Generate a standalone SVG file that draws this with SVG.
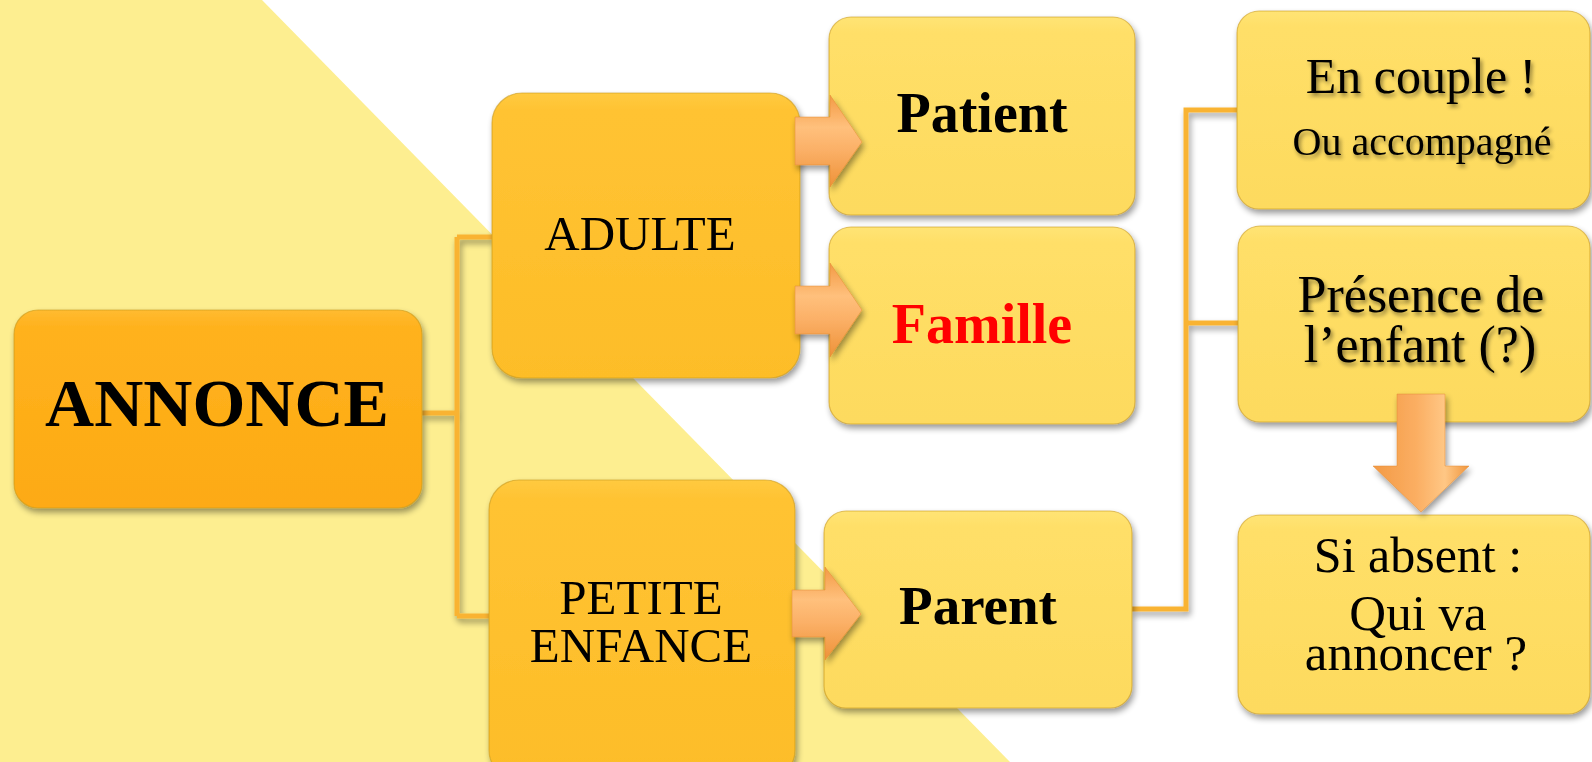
<svg xmlns="http://www.w3.org/2000/svg" width="1592" height="762" viewBox="0 0 1592 762">
<defs>
  <linearGradient id="gMain" x1="0" y1="0" x2="0" y2="1">
    <stop offset="0" stop-color="#FFBB30"/><stop offset="0.08" stop-color="#FFB21F"/><stop offset="1" stop-color="#FDAA12"/>
  </linearGradient>
  <linearGradient id="gMid" x1="0" y1="0" x2="0" y2="1">
    <stop offset="0" stop-color="#FFCA40"/><stop offset="0.06" stop-color="#FFC333"/><stop offset="1" stop-color="#FDBD28"/>
  </linearGradient>
  <linearGradient id="gLight" x1="0" y1="0" x2="0" y2="1">
    <stop offset="0" stop-color="#FFE475"/><stop offset="0.08" stop-color="#FFDF68"/><stop offset="1" stop-color="#FDDA5E"/>
  </linearGradient>
  <linearGradient id="gArrowR" x1="0" y1="0" x2="0" y2="1">
    <stop offset="0" stop-color="#F39A45"/><stop offset="0.35" stop-color="#FFC07C"/><stop offset="0.6" stop-color="#FBB067"/><stop offset="1" stop-color="#EE9238"/>
  </linearGradient>
  <linearGradient id="gArrowD" x1="0" y1="0" x2="1" y2="0">
    <stop offset="0" stop-color="#F39A45"/><stop offset="0.45" stop-color="#FBAE62"/><stop offset="0.75" stop-color="#FFC785"/><stop offset="1" stop-color="#F0963E"/>
  </linearGradient>
  <filter id="shadow" x="-10%" y="-10%" width="125%" height="125%">
    <feGaussianBlur in="SourceAlpha" stdDeviation="3"/>
    <feOffset dx="2" dy="4" result="o"/>
    <feComponentTransfer><feFuncA type="linear" slope="0.4"/></feComponentTransfer>
    <feMerge><feMergeNode/><feMergeNode in="SourceGraphic"/></feMerge>
  </filter>
  <filter id="tshadow" x="-10%" y="-20%" width="125%" height="150%">
    <feGaussianBlur in="SourceAlpha" stdDeviation="2"/>
    <feOffset dx="2" dy="3"/>
    <feComponentTransfer><feFuncA type="linear" slope="0.45"/></feComponentTransfer>
    <feMerge><feMergeNode/><feMergeNode in="SourceGraphic"/></feMerge>
  </filter>
  <style>
    .box { stroke: #C99A1C; stroke-width: 1.2; stroke-opacity: 0.6; filter: url(#shadow); }
    .main { fill: url(#gMain); }
    .mid { fill: url(#gMid); }
    .light { fill: url(#gLight); }
    .conn { fill: none; stroke: #F9B331; stroke-width: 5; filter: url(#shadow); }
    .arr { stroke: #E08A30; stroke-width: 0.8; stroke-opacity: 0.6; filter: url(#shadow); }
    text { font-family: "Liberation Serif", "Times New Roman", serif; text-anchor: middle; fill: #000; }
    .b { font-weight: bold; }
    .ts { filter: url(#tshadow); }
  </style>
</defs>

<rect x="0" y="0" width="1592" height="762" fill="#FFFFFF"/>
<polygon points="0,0 262,0 1010,762 0,762" fill="#FDEE90"/>

<g id="connectors">
  <path class="conn" d="M422,413 H457 M457,237 V616 M457,237 H492 M457,616 H489"/>
  <path class="conn" d="M1132,609 H1186 V110 H1237 M1186,323 H1238"/>
</g>

<g id="annonce">
  <rect class="box main" x="14" y="310" width="408" height="198" rx="24"/>
  <text class="b" x="217" y="426" font-size="68">ANNONCE</text>
</g>

<g id="adulte">
  <rect class="box mid" x="492" y="93" width="308" height="285" rx="30"/>
  <text x="640" y="250" font-size="49">ADULTE</text>
</g>

<g id="petite-enfance">
  <rect class="box mid" x="489" y="480" width="306" height="300" rx="30"/>
  <text x="641" y="614" font-size="49">PETITE</text>
  <text x="641" y="662" font-size="49">ENFANCE</text>
</g>

<g id="patient">
  <rect class="box light" x="829" y="17" width="306" height="198" rx="22"/>
  <text class="b" x="982" y="132" font-size="56">Patient</text>
</g>

<g id="famille">
  <rect class="box light" x="829" y="227" width="306" height="197" rx="22"/>
  <text class="b" x="982" y="343" font-size="56" fill="#FF0000" style="fill:#FF0000">Famille</text>
</g>

<g id="parent">
  <rect class="box light" x="824" y="511" width="308" height="197" rx="22"/>
  <text class="b" x="978" y="624" font-size="55">Parent</text>
</g>

<g id="en-couple">
  <rect class="box light" x="1237" y="11" width="353" height="198" rx="22"/>
  <text class="ts" x="1421" y="93" font-size="50">En couple !</text>
  <text class="ts" x="1422" y="155" font-size="40">Ou accompagné</text>
</g>

<g id="presence">
  <rect class="box light" x="1238" y="226" width="352" height="196" rx="22"/>
  <text class="ts" x="1421" y="312" font-size="52">Présence de</text>
  <text class="ts" x="1420" y="362" font-size="52">l’enfant (?)</text>
</g>

<g id="si-absent">
  <rect class="box light" x="1238" y="515" width="352" height="199" rx="22"/>
  <text x="1418" y="572" font-size="50">Si absent :</text>
  <text x="1418" y="630" font-size="51">Qui va</text>
  <text x="1416" y="670" font-size="51">annoncer ?</text>
</g>

<g id="arrows">
  <path class="arr" fill="url(#gArrowR)" d="M795,117 H830 V95 L862,142 L830,187 V165 H795 Z"/>
  <path class="arr" fill="url(#gArrowR)" d="M795,286 H830 V263 L862,310 L830,357 V334 H795 Z"/>
  <path class="arr" fill="url(#gArrowR)" d="M792,590 H825 V567 L861,614 L825,660 V637 H792 Z"/>
  <path class="arr" fill="url(#gArrowD)" d="M1397,394 H1445 V466 H1469 L1421,512 L1373,466 H1397 Z"/>
</g>
</svg>
